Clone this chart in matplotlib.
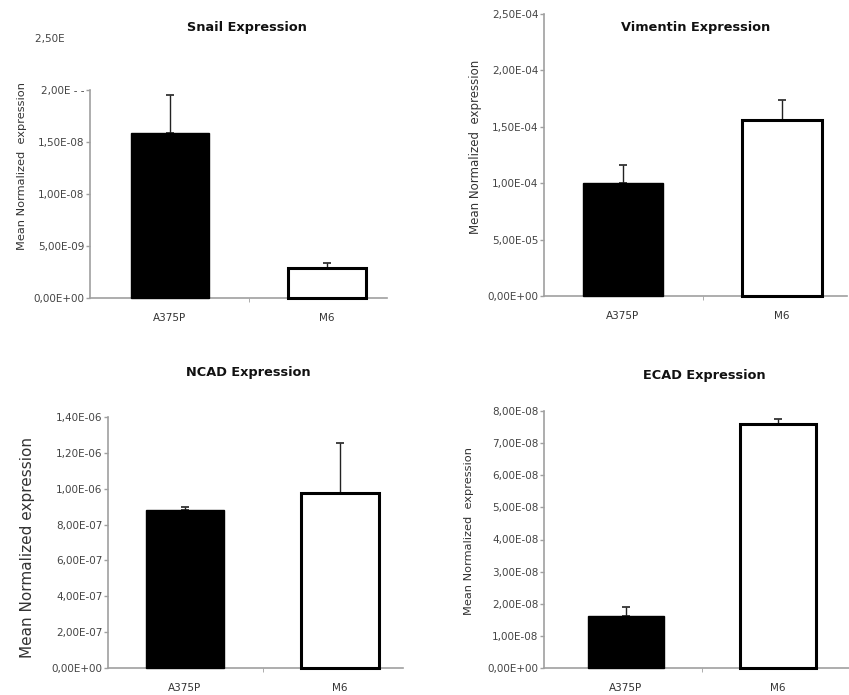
import matplotlib
matplotlib.use("Agg")
import matplotlib.pyplot as plt
from matplotlib.ticker import FixedLocator

groups = ["A375P", "M6"]

snail_mean = [1.59e-8, 2.85e-9]
snail_err = [0.36e-8, 0.5e-9]

vim_mean = [1.00e-4, 1.56e-4]
vim_err = [0.16e-4, 0.175e-4]

ncad_mean = [0.88e-6, 0.975e-6]
ncad_err = [0.02e-6, 0.28e-6]

ecad_mean = [1.62e-8, 7.60e-8]
ecad_err = [0.28e-8, 0.16e-8]

W, H = 849, 695
fig = plt.figure(figsize=(W / 100, H / 100), dpi=100)
fig.patch.set_facecolor("white")


def fmt(v):
    return f"{v:.2E}".replace(".", ",")


def panel(left, right, y0, ytop, ymax, c0, sp, means, errs, ticks,
          labels=None, spine_top=None):
    # pixel box -> figure fraction
    ax = fig.add_axes([left / W, 1 - y0 / H, (right - left) / W, (y0 - ytop) / H])
    ax.bar([0, 1], means, width=0.5, color=["black", "white"],
           edgecolor="black", linewidth=[1, 2.2], zorder=3, clip_on=False)
    ax.errorbar([0, 1], means, yerr=[[0, 0], errs], fmt="none",
                ecolor="#222222", elinewidth=1, capsize=3, capthick=1.2, zorder=1)
    ax.set_xlim(-(c0 - left) / sp, (right - c0) / sp)
    ax.set_ylim(0, ymax)
    for s in ["top", "right"]:
        ax.spines[s].set_visible(False)
    for s in ["left", "bottom"]:
        ax.spines[s].set_color("#a0a0a0")
        ax.spines[s].set_linewidth(1.2)
    if spine_top is not None:
        ax.spines["left"].set_bounds(0, spine_top)
    ax.yaxis.set_major_locator(FixedLocator(ticks))
    ax.set_yticklabels(labels if labels else [fmt(t) for t in ticks])
    ax.tick_params(axis="y", length=3, width=1, color="#a0a0a0", pad=1,
                   labelsize=7.5, labelcolor="#444444")
    ax.set_xticks([0, 1])
    ax.set_xticklabels(groups)
    ax.tick_params(axis="x", length=0, pad=11, labelsize=7.5, labelcolor="#333333")
    ax.set_xticks([0.5], minor=True)
    ax.tick_params(axis="x", which="minor", length=3, color="#a0a0a0", direction="out")
    return ax


ax1 = panel(90, 387, 298, 38, 2.5e-8, 170, 157, snail_mean, snail_err,
            [0, 5e-9, 1e-8, 1.5e-8, 2e-8, 2.5e-8],
            labels=["0,00E+00", "5,00E-09", "1,00E-08", "1,50E-08", "2,00E - -", "2,50E      "],
            spine_top=2e-8)
ax1.yaxis.get_major_ticks()[-1].tick1line.set_visible(False)

ax2 = panel(544, 847, 296, 14, 2.5e-4, 623, 159, vim_mean, vim_err,
            [0, 5e-5, 1e-4, 1.5e-4, 2e-4, 2.5e-4])

ax3 = panel(108, 403, 668, 417, 1.4e-6, 185, 155, ncad_mean, ncad_err,
            [i * 2e-7 for i in range(8)])

ax4 = panel(544, 849, 668, 411, 8e-8, 626, 152, ecad_mean, ecad_err,
            [i * 1e-8 for i in range(9)])


def ftext(x, y, s, **kw):
    fig.text(x / W, 1 - y / H, s, ha="center", va="center", **kw)


ftext(247, 27, "Snail Expression", fontsize=9.3, fontweight="bold", color="#111111")
ftext(696, 27, "Vimentin Expression", fontsize=9.3, fontweight="bold", color="#111111")
ftext(248, 373, "NCAD Expression", fontsize=9.3, fontweight="bold", color="#111111")
ftext(704, 376, "ECAD Expression", fontsize=9.3, fontweight="bold", color="#111111")

ftext(22, 166, "Mean Normalized  expression", fontsize=8.2, rotation=90, color="#333333")
ftext(476, 147, "Mean Normalized  expression", fontsize=8.5, rotation=90, color="#333333")
ftext(28, 548, "Mean Normalized expression", fontsize=11, rotation=90, color="#333333")
ftext(469, 531, "Mean Normalized  expression", fontsize=8.2, rotation=90, color="#333333")

fig.savefig("out.png", dpi=100, facecolor="white")
